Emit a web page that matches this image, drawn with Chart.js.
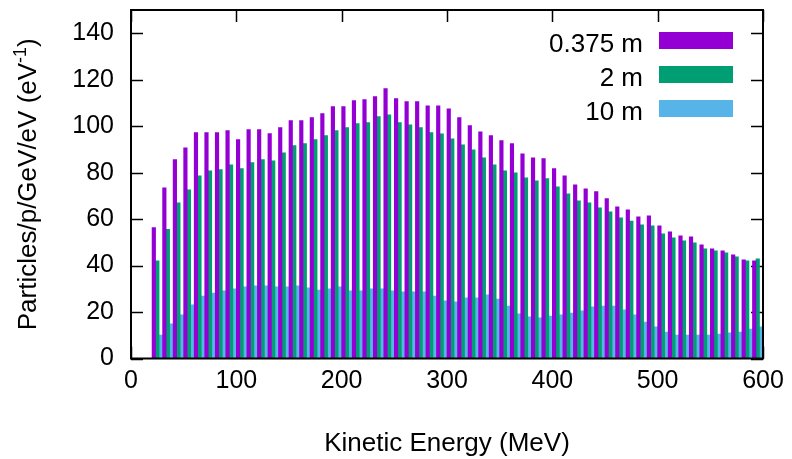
<!DOCTYPE html>
<html><head><meta charset="utf-8">
<script src="https://cdn.jsdelivr.net/npm/chart.js@4.4.1/dist/chart.umd.min.js"></script>
<style>html,body{margin:0;padding:0;background:#fff;}#wrap{width:792px;height:459px;position:relative;}</style>
</head><body><div id="wrap"><canvas id="c" width="792" height="459"></canvas></div>
<script>
// Bin centres (MeV) — bins 20-30, 30-40, ... 590-600
const energies = [25,35,45,55,65,75,85,95,105,115,125,135,145,155,165,175,185,195,205,215,225,235,245,255,265,275,285,295,305,315,325,335,345,355,365,375,385,395,405,415,425,435,445,455,465,475,485,495,505,515,525,535,545,555,565,575,585,595];
const series0375 = [56.3,73.5,85.6,90.7,97.2,97.2,97.2,98.1,94.2,98.5,98.5,96.8,99.4,102.4,102.4,103.7,105.4,108.4,108.4,
  111.0,111.4,112.7,116.2,111.9,110.6,110.6,108.8,108.8,107.5,103.7,100.2,97.6,95.9,93.8,92.5,88.1,86.4,86.0,81.7,
  78.6,74.7,73.0,71.8,68.8,65.3,64.0,61.0,61.4,57.1,54.5,52.8,52.4,48.9,47.2,46.3,44.6,42.5,42.0];
const series2 = [42.0,55.6,67.0,72.6,78.6,80.8,81.3,83.4,81.7,84.3,85.6,85.1,88.5,91.6,92.5,94.2,95.9,98.1,99.4,
  101.1,101.5,104.1,104.9,101.5,100.6,99.4,97.2,96.7,94.6,92.0,89.8,86.4,83.4,80.8,79.9,77.8,76.5,77.4,73.9,
  70.9,67.9,67.0,64.9,63.1,60.6,59.2,57.5,57.1,53.7,51.9,50.6,49.8,47.2,46.3,45.5,43.8,42.0,42.9];
const series10 = [10.1,14.9,18.8,23.1,26.9,28.2,29.1,30.0,30.8,31.3,31.3,30.8,30.8,31.3,30.4,29.5,30.0,30.8,29.1,
  29.1,30.0,30.0,29.1,28.7,28.7,28.7,26.9,24.8,24.4,26.1,26.1,27.4,25.6,22.6,19.2,17.9,17.5,18.3,18.8,
  19.6,20.5,22.2,22.6,22.6,20.9,18.8,15.7,13.6,11.4,10.1,10.1,10.1,10.1,10.5,11.0,11.4,12.7,13.6];
const seriesLabels = ['0.375 m','2 m','10 m'];
const seriesColors = ['#9400d3','#009e73','#56b4e9'];
const xTicks = [0,100,200,300,400,500,600];
const yTicks = [0,20,40,60,80,100,120,140];
const xRange = [0, 600];
const yRange = [0, 150];
const xTitle = 'Kinetic Energy (MeV)';
const yTitleMain = 'Particles/p/GeV/eV (eV';
const yTitleSup = '-1';
const yTitleEnd = ')';

const FONT = '"Liberation Sans", Arial, sans-serif';
const toPts = vals => vals.map((v,i)=>({x:energies[i], y:v}));
const allSeries = [series0375, series2, series10];

const frame = {
  id:'frame',
  beforeDatasetsDraw(chart){
    const {ctx, chartArea:a, scales:{x,y}} = chart;
    ctx.save();
    ctx.strokeStyle='#000'; ctx.lineWidth=1.5;
    const L=12;
    ctx.beginPath();
    xTicks.forEach(v=>{const px=Math.round(x.getPixelForValue(v))+0.5;
      ctx.moveTo(px,a.bottom); ctx.lineTo(px,a.bottom-L);
      ctx.moveTo(px,a.top); ctx.lineTo(px,a.top+L);});
    yTicks.forEach(v=>{const py=Math.round(y.getPixelForValue(v))+0.5;
      ctx.moveTo(a.left,py); ctx.lineTo(a.left+L,py);
      ctx.moveTo(a.right,py); ctx.lineTo(a.right-L,py);});
    ctx.stroke();
    ctx.restore();
  },
  afterDatasetsDraw(chart){
    const {ctx, chartArea:a} = chart;
    ctx.save();
    ctx.strokeStyle='#000'; ctx.lineWidth=2;
    ctx.strokeRect(a.left,a.top,a.right-a.left,a.bottom-a.top);
    // legend
    ctx.font = '26px '+FONT;
    ctx.fillStyle='#000'; ctx.textAlign='right'; ctx.textBaseline='alphabetic';
    seriesLabels.forEach((lab,i)=>{
      const top = a.top + 22 + i*34;
      ctx.fillStyle = seriesColors[i];
      ctx.fillRect(a.right-104, top, 74, 17);
      ctx.fillStyle = '#000';
      ctx.fillText(lab, a.right-120, top+19.5);
    });
    // x title
    ctx.textAlign='center';
    ctx.fillText(xTitle, (a.left+a.right)/2, 451);
    // y title with superscript
    const cy = (a.top+a.bottom)/2;
    ctx.translate(36, cy);
    ctx.rotate(-Math.PI/2);
    ctx.textAlign='left';
    ctx.font = '26px '+FONT;
    const w1 = ctx.measureText(yTitleMain).width;
    const w3 = ctx.measureText(yTitleEnd).width;
    ctx.font = '18px '+FONT;
    const w2 = ctx.measureText(yTitleSup).width;
    let sx = -(w1+w2+w3)/2;
    ctx.font = '26px '+FONT;
    ctx.fillText(yTitleMain, sx, 0); sx += w1;
    ctx.font = '18px '+FONT;
    ctx.fillText(yTitleSup, sx, -10); sx += w2;
    ctx.font = '26px '+FONT;
    ctx.fillText(yTitleEnd, sx, 0);
    ctx.restore();
  }
};

new Chart(document.getElementById('c'), {
  type:'bar',
  data:{
    datasets: allSeries.map((s,i)=>({
      label: seriesLabels[i],
      data: toPts(s),
      backgroundColor: seriesColors[i],
      borderWidth: 0,
      categoryPercentage: 1.0,
      barPercentage: 1.0
    }))
  },
  options:{
    responsive:false, animation:false, devicePixelRatio:1,
    layout:{padding:{left:0,right:29,top:10,bottom:0}},
    plugins:{legend:{display:false}, tooltip:{enabled:false}, title:{display:false}},
    scales:{
      x:{type:'linear', min:xRange[0], max:xRange[1], offset:false, bounds:'data',
        grid:{display:false, drawTicks:false}, border:{display:false},
        afterBuildTicks: s => { s.ticks = xTicks.map(v=>({value:v})); s.min = xRange[0]; s.max = xRange[1]; },
        afterFit: s => { s.height = 100.5; s.paddingLeft = 0; s.paddingRight = 0; },
        ticks:{font:{family:FONT,size:25}, color:'#000', padding:8, maxRotation:0, autoSkip:false}
      },
      y:{type:'linear', min:yRange[0], max:yRange[1], bounds:'data', grace:0,
        grid:{display:false, drawTicks:false}, border:{display:false},
        afterBuildTicks: s => { s.ticks = yTicks.map(v=>({value:v})); s.min = yRange[0]; s.max = yRange[1]; },
        afterFit: s => { s.width = 131; s.paddingTop = 0; s.paddingBottom = 0; },
        ticks:{font:{family:FONT,size:25}, color:'#000', padding:17}
      }
    }
  },
  plugins:[frame]
});
</script></body></html>
